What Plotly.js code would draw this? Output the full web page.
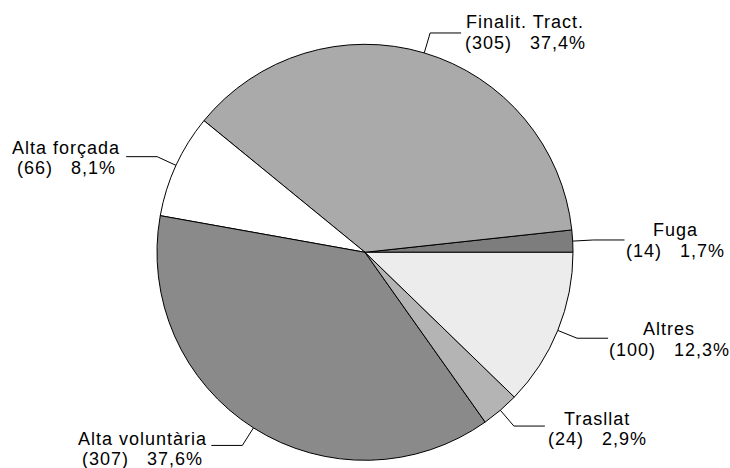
<!DOCTYPE html>
<html>
<head>
<meta charset="utf-8">
<script src="https://cdn.plot.ly/plotly-3.0.1.min.js"></script>
<style>
  html, body { margin: 0; padding: 0; background: #fff; }
  #chart { width: 730px; height: 468px; }
  .annotation-text { letter-spacing: 1px; }
</style>
</head>
<body>
<div id="chart"></div>
<script>
// ---- data ----
const categories = ['Fuga', 'Finalit. Tract.', 'Alta forçada', 'Alta voluntària', 'Trasllat', 'Altres'];
const counts = [14, 305, 66, 307, 24, 100];

// ---- style ----
const sliceColors = ['#7d7d7d', '#aaaaaa', '#ffffff', '#8a8a8a', '#b4b4b4', '#ececec'];

// ---- layout of the figure (pixels) ----
const W = 730, H = 468;
const cx = 365, cy = 252.3, R = 208;
const elbowFactor = 1.1;   // leader line radial extension
const tailLen = 31;        // horizontal part of the leader line
const lineGap = 20.5;      // distance between the two text lines
const fontSize = 18;
// label text centre x and first-line baseline y (pixels)
const labelX = [675, 525, 66, 142, 597, 669];
const labelY = [236.5, 28.5, 154, 445, 425, 335.5];

const total = counts.reduce((a, b) => a + b, 0);
const pctText = counts.map(v => (v / total * 100).toFixed(1).replace('.', ','));

const px = x => x / W;
const py = y => 1 - y / H;

// first slice starts at 3 o'clock going counterclockwise
// (plotly anchors the end of the first slice at `rotation` in this mode)
const rotation = 90 - counts[0] / total * 360;

const trace = {
  type: 'pie',
  labels: categories,
  values: counts,
  sort: false,
  direction: 'counterclockwise',
  rotation: rotation,
  textinfo: 'none',
  hoverinfo: 'label+value+percent',
  marker: { colors: sliceColors, line: { color: '#000000', width: 1 } },
  domain: { x: [px(cx - R), px(cx + R)], y: [py(cy + R), py(cy - R)] },
  showlegend: false
};

const shapes = [];
const annotations = [];
let cum = 0;
counts.forEach((v, i) => {
  const a0 = cum / total * 2 * Math.PI;
  cum += v;
  const a1 = cum / total * 2 * Math.PI;
  const mid = (a0 + a1) / 2;
  const sx = cx + R * Math.cos(mid), sy = cy - R * Math.sin(mid);
  const ex = cx + R * elbowFactor * Math.cos(mid), ey = cy - R * elbowFactor * Math.sin(mid);
  const side = Math.cos(mid) >= 0 ? 1 : -1;
  const tx = ex + side * tailLen;
  const ln = { color: '#000000', width: 1 };
  shapes.push({ type: 'line', xref: 'paper', yref: 'paper', x0: px(sx), y0: py(sy), x1: px(ex), y1: py(ey), line: ln });
  shapes.push({ type: 'line', xref: 'paper', yref: 'paper', x0: px(ex), y0: py(ey), x1: px(tx), y1: py(ey), line: ln });

  const lines = [categories[i], '(' + counts[i] + ')\u00a0\u00a0\u00a0' + pctText[i] + '%'];
  lines.forEach((t, k) => {
    const base = labelY[i] + k * lineGap;
    annotations.push({
      xref: 'paper', yref: 'paper',
      x: px(labelX[i]), y: py(base - 0.34 * fontSize),
      xanchor: 'center', yanchor: 'middle',
      text: t, showarrow: false, borderpad: 0,
      font: { family: 'Liberation Sans, Arial, sans-serif', size: fontSize, color: '#000000' }
    });
  });
});

const layout = {
  width: W, height: H,
  margin: { l: 0, r: 0, t: 0, b: 0 },
  paper_bgcolor: '#ffffff',
  plot_bgcolor: '#ffffff',
  shapes: shapes,
  annotations: annotations,
  showlegend: false
};

Plotly.newPlot('chart', [trace], layout, { displayModeBar: false, staticPlot: true });
</script>
</body>
</html>
